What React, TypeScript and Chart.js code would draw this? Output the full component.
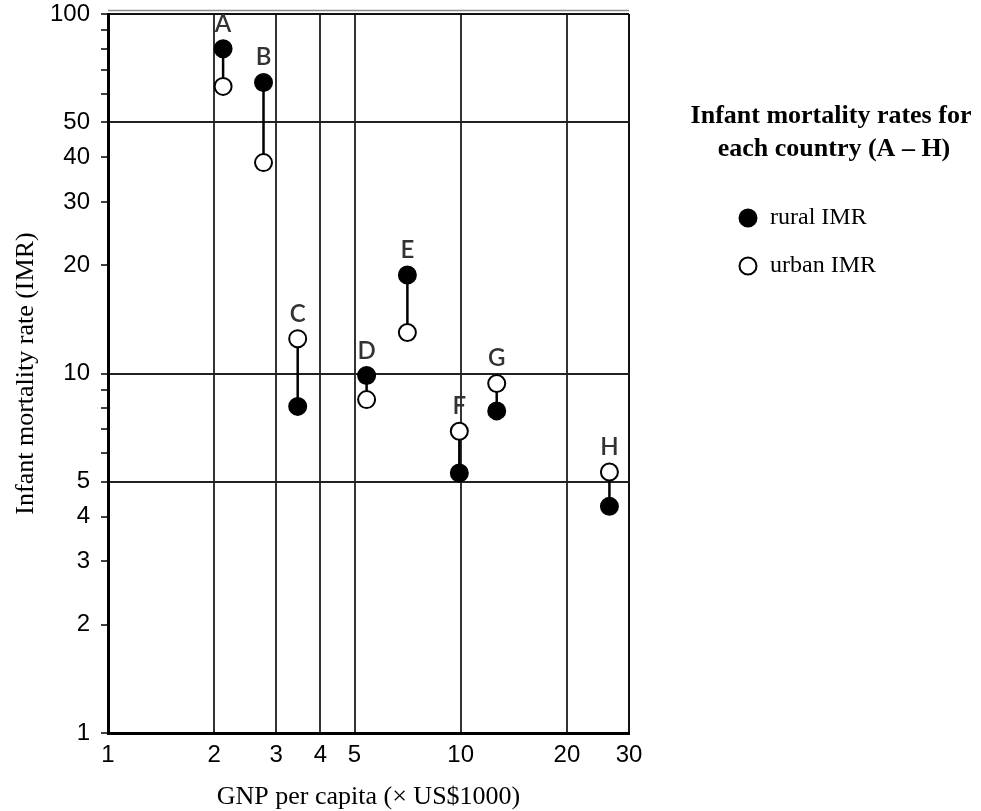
import React, { useEffect, useRef } from "react";
import { Chart, registerables } from "chart.js";

Chart.register(...registerables);

const countries = ["A", "B", "C", "D", "E", "F", "G", "H"];
const gnpPerCapita = [2.12, 2.76, 3.45, 5.41, 7.06, 9.91, 12.65, 26.4];
const ruralIMR = [80, 64.5, 8.1, 9.87, 18.8, 5.29, 7.87, 4.27];
const urbanIMR = [62.9, 38.6, 12.5, 8.46, 13.0, 6.91, 9.38, 5.32];

const xTicks = [1, 2, 3, 4, 5, 10, 20, 30];
const yTicks = [1, 2, 3, 4, 5, 6, 7, 8, 9, 10, 20, 30, 40, 50, 60, 70, 80, 90, 100];
const yLabeled = [1, 2, 3, 4, 5, 10, 20, 30, 40, 50, 100];
const yGridAt = [5, 10, 50, 100];

const xTitle = "GNP per capita (\u00D7 US$1000)";
const yTitle = "Infant mortality rate (IMR)";
const legendTitle = ["Infant mortality rates for", "each country (A \u2013 H)"];
const legendItems = ["rural IMR", "urban IMR"];

const SERIF = "'Liberation Serif', 'Times New Roman', serif";
const SANS = "'Liberation Sans', Arial, sans-serif";

const annotPlugin = {
  id: "annot",
  afterDatasetsDraw(chart: any) {
    const { ctx, chartArea } = chart;
    const x = chart.scales.x;
    const y = chart.scales.y;
    ctx.save();
    // thin double top rule
    ctx.strokeStyle = "#8a8a8a";
    ctx.lineWidth = 1.5;
    ctx.beginPath();
    ctx.moveTo(chartArea.left, chartArea.top - 3.5);
    ctx.lineTo(chartArea.right, chartArea.top - 3.5);
    ctx.stroke();

    // country letters
    ctx.font = "600 24px Lato, 'Noto Sans', sans-serif";
    ctx.fillStyle = "#333";
    ctx.textAlign = "center";
    ctx.textBaseline = "alphabetic";
    countries.forEach((c, i) => {
      const px = x.getPixelForValue(gnpPerCapita[i]);
      const py = y.getPixelForValue(Math.max(ruralIMR[i], urbanIMR[i]));
      ctx.fillText(c, px, py - 17);
    });

    // legend
    ctx.fillStyle = "#000";
    ctx.font = "bold 26px " + SERIF;
    ctx.textAlign = "center";
    ctx.textBaseline = "middle";
    ctx.fillText(legendTitle[0], 831, 116);
    ctx.fillText(legendTitle[1], 834, 149);

    const cx = 748;
    const rows = [218, 266];
    rows.forEach((ry, i) => {
      ctx.beginPath();
      ctx.arc(cx, ry, 8.5, 0, Math.PI * 2);
      ctx.fillStyle = i === 0 ? "#000" : "#fff";
      ctx.fill();
      ctx.lineWidth = 2;
      ctx.strokeStyle = "#000";
      ctx.stroke();
      ctx.fillStyle = "#000";
      ctx.font = "24px " + SERIF;
      ctx.textAlign = "left";
      ctx.textBaseline = "middle";
      ctx.fillText(legendItems[i], 770, ry);
    });
    ctx.restore();
  },
};

export default function App() {
  const ref = useRef<HTMLCanvasElement | null>(null);
  useEffect(() => {
    if (!ref.current) return;
    const connectors = countries.map((c, i) => ({
      type: "line" as const,
      label: c,
      data: [
        { x: gnpPerCapita[i], y: ruralIMR[i] },
        { x: gnpPerCapita[i], y: urbanIMR[i] },
      ],
      borderColor: "#000",
      borderWidth: 2.5,
      pointRadius: 0,
      showLine: true,
      order: 5,
    }));
    const chart = new Chart(ref.current, {
      type: "scatter",
      data: {
        datasets: [
          {
            label: legendItems[0],
            data: gnpPerCapita.map((g, i) => ({ x: g, y: ruralIMR[i] })),
            backgroundColor: "#000",
            borderColor: "#000",
            borderWidth: 2,
            pointRadius: 8.5,
            order: 0,
          },
          {
            label: legendItems[1],
            data: gnpPerCapita.map((g, i) => ({ x: g, y: urbanIMR[i] })),
            backgroundColor: "#fff",
            borderColor: "#000",
            borderWidth: 2,
            pointRadius: 8.5,
            order: 1,
          },
          ...connectors,
        ] as any,
      },
      options: {
        responsive: false,
        animation: false,
        devicePixelRatio: 1,
        layout: { padding: { top: 14, right: 352, bottom: 0, left: 0 } },
        plugins: {
          legend: { display: false },
          tooltip: { enabled: false },
        },
        scales: {
          x: {
            type: "logarithmic",
            min: 1,
            max: 30,
            afterBuildTicks: (s: any) => {
              s.ticks = xTicks.map((v) => ({ value: v }));
            },
            afterFit: (s: any) => {
              s.height = 78;
              s.paddingLeft = 0;
              s.paddingRight = 0;
            },
            ticks: {
              autoSkip: false,
              maxRotation: 0,
              padding: 8,
              color: "#000",
              font: { family: SANS, size: 24 },
              callback: (v: any) => String(v),
            },
            grid: {
              drawTicks: false,
              lineWidth: 2,
              color: (ctx: any) =>
                ctx.tick && ctx.tick.value === 1
                  ? "rgba(0,0,0,0)"
                  : ctx.tick && ctx.tick.value === 30
                  ? "#111"
                  : "#333",
            },
            border: { display: true, color: "#000", width: 3 },
            title: {
              display: true,
              text: xTitle,
              color: "#000",
              font: { family: SERIF, size: 26, lineHeight: 1.0 },
              padding: { top: 0, bottom: 1 },
            },
          },
          y: {
            type: "logarithmic",
            min: 1,
            max: 100,
            afterBuildTicks: (s: any) => {
              s.ticks = yTicks.map((v) => ({ value: v }));
            },
            afterFit: (s: any) => {
              s.width = 108;
              s.paddingTop = 0;
              s.paddingBottom = 0;
            },
            ticks: {
              autoSkip: false,
              padding: 11,
              color: "#000",
              font: { family: SANS, size: 24 },
              callback: (v: any) => (yLabeled.includes(Number(v)) ? String(v) : ""),
            },
            grid: {
              drawTicks: true,
              tickLength: 7,
              tickColor: "#000",
              tickWidth: 1.5,
              lineWidth: 2,
              color: (ctx: any) =>
                ctx.tick && yGridAt.includes(ctx.tick.value)
                  ? ctx.tick.value === 100
                    ? "#111"
                    : "#222"
                  : "rgba(0,0,0,0)",
            },
            border: { display: true, color: "#000", width: 3 },
            title: {
              display: true,
              text: yTitle,
              color: "#000",
              font: { family: SERIF, size: 26, lineHeight: 1.2 },
              padding: { top: 11, bottom: 0 },
            },
          },
        },
      },
      plugins: [annotPlugin],
    });
    return () => chart.destroy();
  }, []);
  return (
    <div style={{ position: "absolute", left: 0, top: 0, width: 981, height: 811, background: "#fff" }}>
      <canvas ref={ref} width={981} height={811} style={{ display: "block" }} />
    </div>
  );
}
